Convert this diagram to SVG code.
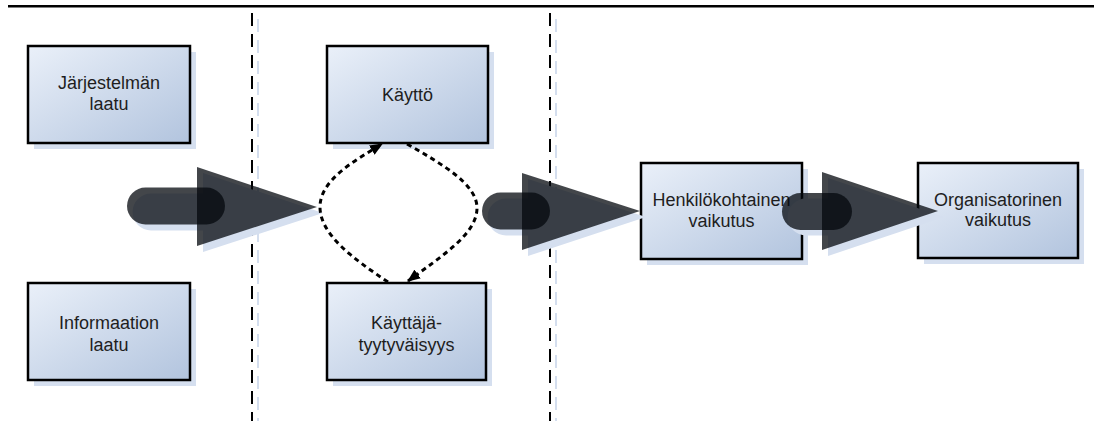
<svg xmlns="http://www.w3.org/2000/svg" width="1094" height="421" viewBox="0 0 1094 421">
  <defs>
    <linearGradient id="boxFill" x1="0" y1="0" x2="1" y2="1">
      <stop offset="0" stop-color="#eaf0f9"/>
      <stop offset="1" stop-color="#b2c4de"/>
    </linearGradient>
    <marker id="dotHead" viewBox="0 0 12 10" refX="11" refY="5" markerWidth="13" markerHeight="11" markerUnits="userSpaceOnUse" orient="auto">
      <path d="M0,0 L12,5 L0,10 Z" fill="#000"/>
    </marker>
    <style>
      .frame { stroke: #000; stroke-width: 2.5; }
      .lane { stroke: #000; stroke-width: 2; stroke-dasharray: 13 8; fill: none; }
      .laneGhost { stroke: #d4deee; stroke-width: 2; stroke-dasharray: 13 8; fill: none; }
      .shadow { fill: #d5dfef; }
      .box { fill: url(#boxFill); stroke: #000; stroke-width: 2.5; }
      .label { font-family: "Liberation Sans", Arial, sans-serif; font-size: 18px; fill: #1e1e1e; text-anchor: middle; }
      .loop { fill: none; stroke: #000; stroke-width: 3; stroke-dasharray: 5 4; marker-end: url(#dotHead); }
      .barShadow { stroke: #d5dfef; stroke-width: 37; stroke-linecap: round; }
      .bar { stroke: #04080e; stroke-opacity: 0.75; stroke-width: 37; stroke-linecap: round; }
      .head { fill: #04080e; fill-opacity: 0.75; }
    </style>
  </defs>

  <!-- header rule -->
  <line class="frame" x1="8" y1="6.2" x2="1094" y2="6.2"/>

  <!-- swimlane separators -->
  <g id="lanes">
    <line class="laneGhost" x1="258" y1="19" x2="258" y2="421"/>
    <line class="lane" x1="252" y1="13" x2="252" y2="421"/>
    <line class="laneGhost" x1="556" y1="19" x2="556" y2="421"/>
    <line class="lane" x1="550" y1="13" x2="550" y2="421"/>
  </g>

  <g id="jarjestelman-laatu">
    <rect class="shadow" x="34" y="52" width="162" height="97"/>
    <rect class="box" x="28" y="46" width="162" height="97"/>
    <text class="label" x="109" y="89">Järjestelmän</text>
    <text class="label" x="109" y="110">laatu</text>
  </g>

  <g id="informaation-laatu">
    <rect class="shadow" x="34" y="289" width="162" height="97"/>
    <rect class="box" x="28" y="283" width="162" height="97"/>
    <text class="label" x="109" y="329">Informaation</text>
    <text class="label" x="109" y="351">laatu</text>
  </g>

  <g id="kaytto">
    <rect class="shadow" x="333" y="52" width="161" height="97"/>
    <rect class="box" x="327" y="46" width="161" height="97"/>
    <text class="label" x="407.5" y="101">Käyttö</text>
  </g>

  <g id="kayttajatyytyvaisyys">
    <rect class="shadow" x="333" y="289" width="159" height="97"/>
    <rect class="box" x="327" y="283" width="159" height="97"/>
    <text class="label" x="406.5" y="329">Käyttäjä-</text>
    <text class="label" x="406.5" y="351">tyytyväisyys</text>
  </g>

  <g id="henkilokohtainen-vaikutus">
    <rect class="shadow" x="647" y="169" width="161" height="96"/>
    <rect class="box" x="641" y="163" width="161" height="96"/>
    <text class="label" x="721.5" y="206">Henkilökohtainen</text>
    <text class="label" x="721.5" y="227">vaikutus</text>
  </g>

  <g id="organisatorinen-vaikutus">
    <rect class="shadow" x="924" y="169" width="160" height="95"/>
    <rect class="box" x="918" y="163" width="160" height="95"/>
    <text class="label" x="998" y="206">Organisatorinen</text>
    <text class="label" x="998" y="226">vaikutus</text>
  </g>

  <g id="connectors">
    <!-- block arrows: shadows -->
    <line class="barShadow" x1="151" y1="212" x2="213" y2="212"/>
    <polygon class="shadow" points="203,173 203,252 323,213"/>
    <line class="barShadow" x1="506" y1="217" x2="538" y2="217"/>
    <polygon class="shadow" points="528,179 528,256 646,217"/>
    <line class="barShadow" x1="806" y1="217" x2="840" y2="217"/>
    <polygon class="shadow" points="828,178 828,256 944,217"/>

    <!-- block arrows -->
    <line class="bar" x1="145.5" y1="206" x2="206.5" y2="206"/>
    <polygon class="head" points="197,167 197,246 317,207"/>
    <line class="bar" x1="500.5" y1="211" x2="531.5" y2="211"/>
    <polygon class="head" points="522,173 522,250 640,211"/>
    <line class="bar" x1="800.5" y1="211.5" x2="833.5" y2="211.5"/>
    <polygon class="head" points="822,172 822,250 938,211"/>

    <!-- feedback loop between use and satisfaction -->
    <path class="loop" d="M388,282 C352,258 320,234 320,207 C320,180 354,161 382,144"/>
    <path class="loop" d="M407,144 C442,164 477,184 477,208 C477,234 442,256 408,281"/>
  </g>
</svg>
